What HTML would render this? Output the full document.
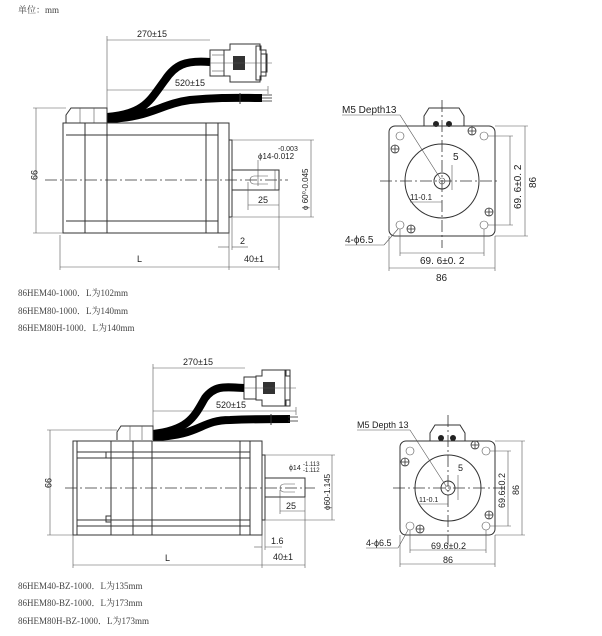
<!DOCTYPE html>
<html><head><meta charset="utf-8"><style>
html,body{margin:0;padding:0;background:#fff;}
svg{display:block;}
text{font-family:"Liberation Sans","Noto Sans CJK SC",sans-serif;fill:#222;}
.s{font-family:"Liberation Serif","Noto Serif CJK SC","Noto Sans CJK SC",serif;fill:#444;font-size:9px;}
.l{stroke:#333;stroke-width:1;fill:none;}
.t{stroke:#555;stroke-width:0.6;fill:none;}
.c{stroke:#000;stroke-width:8;fill:none;stroke-linecap:butt;}
.d{stroke:#333;stroke-width:0.8;fill:none;stroke-dasharray:12 3 2 3;}
</style></head><body>
<svg width="602" height="636" viewBox="0 0 602 636" xmlns="http://www.w3.org/2000/svg">
<text x="18" y="13" class="s" style="font-size:9px">单位：mm</text>

<!-- ===== TOP SIDE VIEW ===== -->
<g>
<line class="t" x1="107" y1="36" x2="107" y2="110"/>
<line class="t" x1="107" y1="40" x2="210" y2="40"/>
<text x="137" y="37" font-size="9">270±15</text>
<line class="t" x1="107" y1="90" x2="268" y2="90"/>
<line class="t" x1="268" y1="86" x2="268" y2="94"/>
<text x="175" y="86" font-size="9">520±15</text>
<!-- connector -->
<rect class="l" x="210" y="50" width="14" height="26"/>
<path class="l" d="M224 50 h6 v-6 h30 v6 h6 v26 h-6 v6 h-30 v-6 h-6z"/>
<rect x="233" y="56" width="12" height="14" fill="#333"/>
<rect class="l" x="256" y="46" width="5" height="34"/>
<rect class="l" x="261" y="54" width="6" height="18"/>
<line class="t" x1="208" y1="63" x2="272" y2="63"/>
<line class="t" x1="212" y1="55" x2="224" y2="55"/>
<line class="t" x1="212" y1="71" x2="224" y2="71"/>
<!-- cables -->
<path class="c" d="M107 117 C145 114, 150 100, 165 80 C175 65, 185 60, 210 62"/>
<path class="c" d="M107 119 C150 118, 160 104, 190 100 C220 97, 240 98, 262 98"/>
<line stroke="#333" stroke-width="0.8" x1="262" y1="95" x2="272" y2="95"/>
<line stroke="#333" stroke-width="0.8" x1="262" y1="98" x2="272" y2="98"/>
<line stroke="#333" stroke-width="0.8" x1="262" y1="101" x2="272" y2="101"/>
<line class="l" x1="240" y1="93" x2="240" y2="104"/>
<!-- housing -->
<path class="l" d="M66 123 v-8 l5 -7 h36 v15"/>
<line class="t" x1="80" y1="108" x2="80" y2="123"/>
<line class="t" x1="94" y1="108" x2="94" y2="123"/>
<!-- body -->
<rect class="l" x="63" y="123" width="166" height="110"/>
<line class="l" x1="85" y1="123" x2="85" y2="233"/>
<line class="l" x1="107" y1="123" x2="107" y2="233"/>
<line class="l" x1="206" y1="123" x2="206" y2="233"/>
<line class="l" x1="218" y1="123" x2="218" y2="233"/>
<line class="l" x1="66" y1="135" x2="218" y2="135"/>
<line class="l" x1="66" y1="221" x2="218" y2="221"/>
<rect class="l" x="229" y="140" width="3" height="77"/>
<!-- shaft -->
<rect class="l" x="232" y="170" width="47" height="20"/>
<path class="t" d="M268 176 h-14 a4 4 0 0 0 0 8 h14"/>
<line class="t" x1="275" y1="170" x2="275" y2="190"/>
<line class="d" x1="45" y1="180" x2="288" y2="180"/>
<!-- dims -->
<line class="t" x1="36" y1="108" x2="36" y2="233"/>
<line class="t" x1="33" y1="108" x2="66" y2="108"/>
<line class="t" x1="33" y1="233" x2="63" y2="233"/>
<text x="0" y="0" font-size="9" transform="translate(31,170) rotate(90)">99</text>
<line class="t" x1="60" y1="235" x2="60" y2="270"/>
<line class="t" x1="229" y1="218" x2="229" y2="270"/>
<line class="t" x1="279" y1="190" x2="279" y2="270"/>
<line class="t" x1="60" y1="267" x2="229" y2="267"/>
<text x="137" y="262" font-size="9">L</text>
<line class="t" x1="229" y1="267" x2="279" y2="267"/>
<text x="244" y="262" font-size="9">40±1</text>
<line class="t" x1="218" y1="247" x2="229" y2="247"/>
<line class="t" x1="232" y1="247" x2="248" y2="247"/>
<line class="t" x1="232" y1="218" x2="232" y2="250"/>
<text x="240" y="244" font-size="9">2</text>
<line class="t" x1="248" y1="182" x2="248" y2="210"/>
<line class="t" x1="248" y1="205" x2="279" y2="205"/>
<text x="258" y="203" font-size="9">25</text>
<line class="t" x1="258" y1="160" x2="258" y2="186"/>
<text x="278" y="151" font-size="7">-0.003</text>
<text x="258" y="159" font-size="8">ϕ14-0.012</text>
<line class="t" x1="232" y1="140" x2="314" y2="140"/>
<line class="t" x1="232" y1="217" x2="314" y2="217"/>
<line class="t" x1="311" y1="140" x2="311" y2="217"/>
<text x="0" y="0" font-size="8" transform="translate(308,210) rotate(-90)">ϕ 60⁰-0.045</text>
</g>

<text x="18" y="296" class="s">86HEM40-1000．L为102mm</text>
<text x="18" y="314" class="s">86HEM80-1000．L为140mm</text>
<text x="18" y="331" class="s">86HEM80H-1000．L为140mm</text>

<!-- ===== TOP FRONT VIEW ===== -->
<g>
<path class="l" d="M424 126 v-10 l5 -8 h30 l5 8 v10"/>
<circle cx="436" cy="124" r="3" fill="#222"/><circle cx="449" cy="124" r="3" fill="#222"/>
<rect class="l" x="389" y="126" width="106" height="110" rx="6"/>
<circle class="l" cx="442" cy="181" r="37"/>
<circle class="l" cx="442" cy="181" r="8"/>
<circle class="t" cx="442" cy="181" r="3"/>
<line class="d" x1="380" y1="181" x2="500" y2="181"/>
<line class="d" x1="442" y1="100" x2="442" y2="248"/>
<g class="t">
<circle cx="400" cy="136" r="4"/><circle cx="484" cy="136" r="4"/><circle cx="400" cy="225" r="4"/><circle cx="484" cy="225" r="4"/>
</g>
<g stroke="#333" stroke-width="0.8" fill="none">
<circle cx="395" cy="149" r="4"/><path d="M391 149h8M395 145v8"/>
<circle cx="472" cy="131" r="4"/><path d="M468 131h8M472 127v8"/>
<circle cx="489" cy="212" r="4"/><path d="M485 212h8M489 208v8"/>
<circle cx="411" cy="229" r="4"/><path d="M407 229h8M411 225v8"/>
</g>
<text x="342" y="113" font-size="10">M5 Depth13</text>
<line class="t" x1="342" y1="115" x2="400" y2="115"/>
<line class="t" x1="400" y1="115" x2="440" y2="178"/>
<text x="453" y="160" font-size="10">5</text>
<line class="t" x1="452" y1="165" x2="452" y2="190"/>
<text x="410" y="200" font-size="8">11-0.1</text>
<line class="t" x1="410" y1="202" x2="442" y2="202"/>
<text x="345" y="243" font-size="10">4-ϕ6.5</text>
<line class="t" x1="345" y1="245" x2="384" y2="245"/>
<line class="t" x1="384" y1="245" x2="398" y2="229"/>
<line class="t" x1="400" y1="229" x2="400" y2="256"/>
<line class="t" x1="484" y1="229" x2="484" y2="256"/>
<line class="t" x1="400" y1="253" x2="484" y2="253"/>
<text x="420" y="264" font-size="10">69. 6±0. 2</text>
<line class="t" x1="389" y1="236" x2="389" y2="271"/>
<line class="t" x1="495" y1="236" x2="495" y2="271"/>
<line class="t" x1="389" y1="268" x2="495" y2="268"/>
<text x="436" y="281" font-size="10">86</text>
<line class="t" x1="488" y1="136" x2="513" y2="136"/>
<line class="t" x1="488" y1="225" x2="513" y2="225"/>
<line class="t" x1="510" y1="136" x2="510" y2="225"/>
<text x="0" y="0" font-size="10" transform="translate(521,209) rotate(-90)">69. 6±0. 2</text>
<line class="t" x1="495" y1="126" x2="528" y2="126"/>
<line class="t" x1="495" y1="236" x2="528" y2="236"/>
<line class="t" x1="525" y1="126" x2="525" y2="236"/>
<text x="0" y="0" font-size="10" transform="translate(536,188) rotate(-90)">86</text>
</g>

<!-- ===== BOTTOM SIDE VIEW ===== -->
<g>
<line class="t" x1="153" y1="364" x2="153" y2="428"/>
<line class="t" x1="153" y1="368" x2="245" y2="368"/>
<text x="183" y="365" font-size="9">270±15</text>
<line class="t" x1="153" y1="411" x2="296" y2="411"/>
<line class="t" x1="296" y1="407" x2="296" y2="415"/>
<text x="216" y="408" font-size="9">520±15</text>
<rect class="l" x="244" y="377" width="12" height="22"/>
<path class="l" d="M256 376 h6 v-6 h24 v6 h4 v24 h-4 v6 h-24 v-6 h-6z"/>
<rect x="263" y="382" width="12" height="12" fill="#333"/>
<rect class="l" x="285" y="370" width="5" height="36"/>
<line class="t" x1="244" y1="388" x2="296" y2="388"/>
<path class="c" d="M153 434 C190 430, 195 415, 205 398 C215 385, 225 387, 244 388"/>
<path class="c" d="M153 437 C200 436, 200 420, 230 420 C255 419, 270 419, 290 419"/>
<line stroke="#333" stroke-width="0.8" x1="288" y1="417" x2="298" y2="417"/>
<line stroke="#333" stroke-width="0.8" x1="288" y1="421" x2="298" y2="421"/>
<line class="l" x1="271" y1="414" x2="271" y2="425"/>
<path class="l" d="M117 440 v-8 l4 -6 h32 v14"/>
<line class="t" x1="130" y1="426" x2="130" y2="440"/>
<line class="t" x1="142" y1="426" x2="142" y2="440"/>
<rect class="l" x="73" y="441" width="189" height="94"/>
<line class="l" x1="77" y1="441" x2="77" y2="535"/>
<line class="l" x1="111" y1="441" x2="111" y2="535"/>
<line class="l" x1="133" y1="441" x2="133" y2="535"/>
<line class="l" x1="152" y1="441" x2="152" y2="535"/>
<line class="l" x1="240" y1="441" x2="240" y2="535"/>
<line class="l" x1="250" y1="441" x2="250" y2="535"/>
<line class="l" x1="77" y1="452" x2="250" y2="452"/>
<line class="l" x1="77" y1="458" x2="250" y2="458"/>
<line class="l" x1="77" y1="520" x2="250" y2="520"/>
<line class="l" x1="77" y1="526" x2="250" y2="526"/>
<rect class="l" x="106" y="452" width="5" height="6"/>
<rect class="l" x="106" y="516" width="5" height="6"/>
<rect class="l" x="262" y="455" width="3" height="65"/>
<rect class="l" x="265" y="478" width="40" height="19"/>
<path class="t" d="M295 484 h-11 a4 4 0 0 0 0 8 h11"/>
<line class="d" x1="65" y1="488" x2="315" y2="488"/>
<line class="t" x1="50" y1="430" x2="50" y2="535"/>
<line class="t" x1="47" y1="430" x2="117" y2="430"/>
<line class="t" x1="47" y1="535" x2="73" y2="535"/>
<text x="0" y="0" font-size="9" transform="translate(45,478) rotate(90)">99</text>
<line class="t" x1="73" y1="535" x2="73" y2="568"/>
<line class="t" x1="262" y1="520" x2="262" y2="568"/>
<line class="t" x1="305" y1="497" x2="305" y2="568"/>
<line class="t" x1="73" y1="565" x2="262" y2="565"/>
<text x="165" y="561" font-size="9">L</text>
<line class="t" x1="262" y1="565" x2="305" y2="565"/>
<text x="273" y="560" font-size="9">40±1</text>
<line class="t" x1="265" y1="520" x2="265" y2="550"/>
<line class="t" x1="254" y1="547" x2="262" y2="547"/>
<line class="t" x1="265" y1="547" x2="282" y2="547"/>
<text x="271" y="544" font-size="9">1.6</text>
<line class="t" x1="280" y1="490" x2="280" y2="514"/>
<line class="t" x1="280" y1="511" x2="305" y2="511"/>
<text x="286" y="509" font-size="9">25</text>
<text x="289" y="470" font-size="7">ϕ14</text>
<text x="303" y="466" font-size="6">-1.113</text>
<text x="303" y="472" font-size="6">-1.112</text>
<line class="t" x1="265" y1="455" x2="335" y2="455"/>
<line class="t" x1="265" y1="520" x2="335" y2="520"/>
<line class="t" x1="332" y1="455" x2="332" y2="520"/>
<text x="0" y="0" font-size="8" transform="translate(330,510) rotate(-90)">ϕ60-1.145</text>
</g>

<text x="18" y="589" class="s">86HEM40-BZ-1000．L为135mm</text>
<text x="18" y="606" class="s">86HEM80-BZ-1000．L为173mm</text>
<text x="18" y="624" class="s">86HEM80H-BZ-1000．L为173mm</text>

<!-- ===== BOTTOM FRONT VIEW ===== -->
<g>
<path class="l" d="M430 441 v-8 l5 -8 h25 l5 8 v8"/>
<circle cx="441" cy="438" r="3" fill="#222"/><circle cx="453" cy="438" r="3" fill="#222"/>
<rect class="l" x="400" y="441" width="95" height="94" rx="6"/>
<circle class="l" cx="448" cy="488" r="33"/>
<circle class="l" cx="448" cy="488" r="7"/>
<circle class="t" cx="448" cy="488" r="2.5"/>
<line class="d" x1="393" y1="488" x2="505" y2="488"/>
<line class="d" x1="448" y1="415" x2="448" y2="545"/>
<g class="t">
<circle cx="410" cy="451" r="4"/><circle cx="486" cy="451" r="4"/><circle cx="410" cy="526" r="4"/><circle cx="486" cy="526" r="4"/>
</g>
<g stroke="#333" stroke-width="0.8" fill="none">
<circle cx="405" cy="462" r="4"/><path d="M401 462h8M405 458v8"/>
<circle cx="475" cy="445" r="4"/><path d="M471 445h8M475 441v8"/>
<circle cx="489" cy="515" r="4"/><path d="M485 515h8M489 511v8"/>
<circle cx="420" cy="529" r="4"/><path d="M416 529h8M420 525v8"/>
</g>
<text x="357" y="428" font-size="9">M5 Depth 13</text>
<line class="t" x1="357" y1="430" x2="410" y2="430"/>
<line class="t" x1="410" y1="430" x2="446" y2="486"/>
<text x="458" y="471" font-size="9">5</text>
<line class="t" x1="458" y1="475" x2="458" y2="500"/>
<text x="419" y="502" font-size="7">11-0.1</text>
<line class="t" x1="419" y1="504" x2="448" y2="504"/>
<text x="366" y="546" font-size="9">4-ϕ6.5</text>
<line class="t" x1="366" y1="548" x2="398" y2="548"/>
<line class="t" x1="398" y1="548" x2="408" y2="530"/>
<line class="t" x1="410" y1="530" x2="410" y2="553"/>
<line class="t" x1="486" y1="530" x2="486" y2="553"/>
<line class="t" x1="410" y1="550" x2="486" y2="550"/>
<text x="431" y="549" font-size="9">69.6±0.2</text>
<line class="t" x1="400" y1="535" x2="400" y2="567"/>
<line class="t" x1="495" y1="535" x2="495" y2="567"/>
<line class="t" x1="400" y1="564" x2="495" y2="564"/>
<text x="443" y="563" font-size="9">86</text>
<line class="t" x1="490" y1="451" x2="511" y2="451"/>
<line class="t" x1="490" y1="526" x2="511" y2="526"/>
<line class="t" x1="508" y1="451" x2="508" y2="526"/>
<text x="0" y="0" font-size="9" transform="translate(505,508) rotate(-90)">69.6±0.2</text>
<line class="t" x1="495" y1="441" x2="525" y2="441"/>
<line class="t" x1="495" y1="535" x2="525" y2="535"/>
<line class="t" x1="522" y1="441" x2="522" y2="535"/>
<text x="0" y="0" font-size="9" transform="translate(519,495) rotate(-90)">86</text>
</g>
</svg>
</body></html>
